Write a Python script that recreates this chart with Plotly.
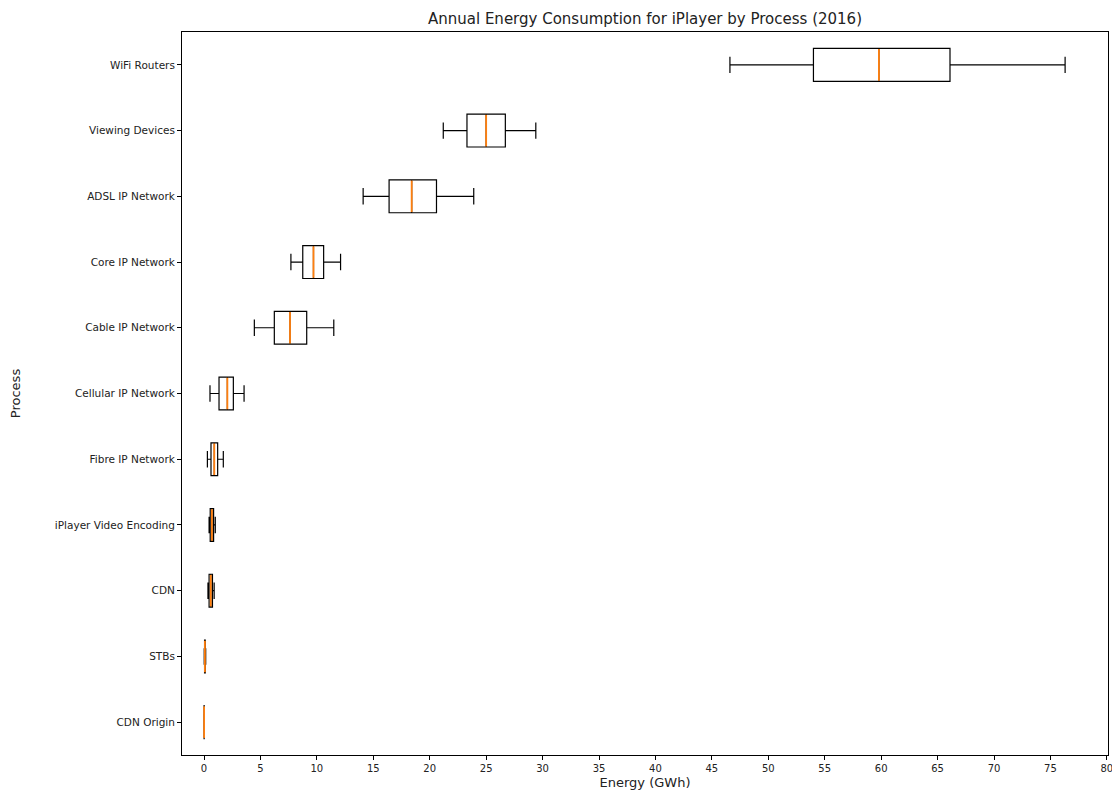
import plotly.graph_objects as go

# Categories from bottom to top
processes = ["CDN Origin", "STBs", "CDN", "iPlayer Video Encoding", "Fibre IP Network",
             "Cellular IP Network", "Cable IP Network", "Core IP Network",
             "ADSL IP Network", "Viewing Devices", "WiFi Routers"]
lower_whisker = [0.005, 0.02, 0.35, 0.45, 0.30, 0.53, 4.46, 7.70, 14.1, 21.2, 46.6]
q1_values     = [0.008, 0.05, 0.45, 0.55, 0.62, 1.33, 6.23, 8.75, 16.4, 23.3, 54.0]
median_values = [0.010, 0.08, 0.60, 0.70, 0.91, 2.07, 7.62, 9.70, 18.4, 25.0, 59.8]
q3_values     = [0.012, 0.11, 0.75, 0.85, 1.21, 2.60, 9.10, 10.6, 20.6, 26.7, 66.1]
upper_whisker = [0.015, 0.15, 0.90, 1.00, 1.71, 3.55, 11.5, 12.1, 23.9, 29.4, 76.3]
x_ticks = list(range(0, 81, 5))

positions = list(range(1, len(processes) + 1))
box_width = 0.5

fig = go.Figure()
fig.add_trace(go.Box(
    y=positions, orientation="h",
    q1=q1_values, median=median_values, q3=q3_values,
    lowerfence=lower_whisker, upperfence=upper_whisker,
    width=box_width, whiskerwidth=0.5,
    line=dict(color="black", width=1.2),
    fillcolor="rgba(255,255,255,0)",
    boxpoints=False, showlegend=False, hoverinfo="skip",
))

# Orange median lines (matplotlib style), drawn over the box's own median
mx, my = [], []
for p, m in zip(positions, median_values):
    mx += [m, m, None]
    my += [p - box_width / 2 + 0.01, p + box_width / 2 - 0.01, None]
fig.add_trace(go.Scatter(x=mx, y=my, mode="lines",
                         line=dict(color="#ff7f0e", width=1.8),
                         showlegend=False, hoverinfo="skip"))

# The page body has an 8px margin, so the figure is drawn 8px in from the corner
W, H = 1112, 786
font_family = "DejaVu Sans"
fig.update_layout(
    width=W, height=H,
    margin=dict(l=174, r=12, t=24, b=39),
    paper_bgcolor="white", plot_bgcolor="white",
    font=dict(family=font_family, color="#222222", size=10),
    title=dict(text="Annual Energy Consumption for iPlayer by Process (2016)",
               x=(174 + 1100) / 2 / W, xanchor="center",
               y=1 - 11 / H, yanchor="middle",
               font=dict(size=15, family=font_family, color="#222222")),
)
fig.update_xaxes(
    automargin=False,
    range=[-1.95, 80.1], tickvals=x_ticks, ticktext=[str(t) for t in x_ticks],
    showgrid=False, zeroline=False,
    showline=True, linecolor="black", linewidth=1, mirror=True,
    ticks="outside", ticklen=4, tickcolor="black", tickwidth=1,
    tickfont=dict(size=10, family=font_family),
    title=dict(text="Energy (GWh)", font=dict(size=13, family=font_family), standoff=4),
)
fig.update_yaxes(
    automargin=False,
    range=[0.5, 11.5], tickvals=positions, ticktext=processes,
    showgrid=False, zeroline=False,
    showline=True, linecolor="black", linewidth=1, mirror=True,
    ticks="outside", ticklen=4, tickcolor="black", tickwidth=1,
    tickfont=dict(size=10.5, family=font_family),
    title=dict(text="Process", font=dict(size=13, family=font_family), standoff=36),
)

fig.write_html("out.html")
